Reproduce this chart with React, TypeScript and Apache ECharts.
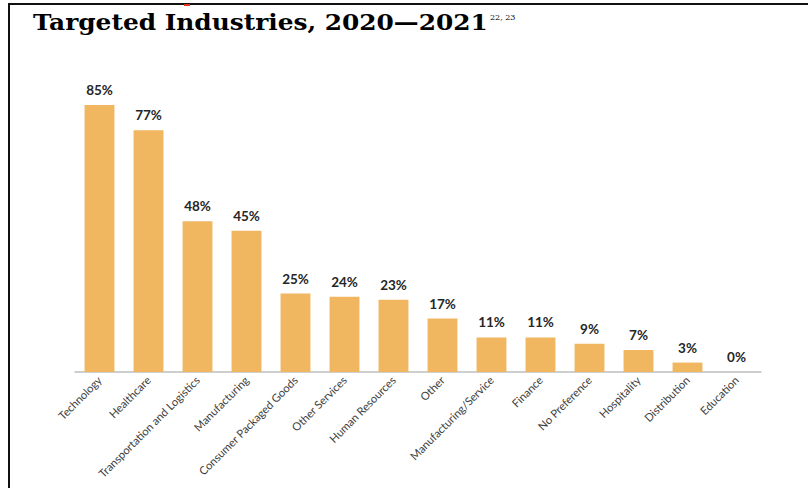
import React, { useEffect, useRef } from "react";
import * as echarts from "echarts";

const categories = [
  "Technology",
  "Healthcare",
  "Transportation and Logistics",
  "Manufacturing",
  "Consumer Packaged Goods",
  "Other Services",
  "Human Resources",
  "Other",
  "Manufacturing/Service",
  "Finance",
  "No Preference",
  "Hospitality",
  "Distribution",
  "Education",
];
const values = [85, 77, 48, 45, 25, 24, 23, 17, 11, 11, 9, 7, 3, 0];

const titleText = "Targeted Industries, 2020\u20142021";
const footnoteText = "22, 23";

export default function App() {
  const ref = useRef<HTMLDivElement>(null);
  useEffect(() => {
    if (!ref.current) return;
    const chart = echarts.init(ref.current, null, { renderer: "svg" });
    chart.setOption({
      animation: false,
      backgroundColor: "#ffffff",
      graphic: [
        { type: "rect", shape: { x: 8, y: 3, width: 800, height: 2 }, style: { fill: "#111" } },
        { type: "rect", shape: { x: 8, y: 3, width: 2, height: 485 }, style: { fill: "#111" } },
        { type: "rect", shape: { x: 184, y: 4, width: 6, height: 2 }, style: { fill: "#e0301e" } },
        {
          type: "text",
          x: 33,
          y: 22,
          scaleX: 1.08,
          style: {
            text: titleText,
            font: "900 23px 'DejaVu Serif'",
            fill: "#000",
            textVerticalAlign: "middle",
          },
        },
        {
          type: "text",
          x: 490,
          y: 17,
          style: {
            text: footnoteText,
            font: "8px 'DejaVu Serif'",
            fill: "#000",
            textVerticalAlign: "middle",
          },
        },
      ],
      grid: { left: 75, right: 47, top: 58, bottom: 116, containLabel: false, outerBoundsMode: "none" },
      xAxis: {
        type: "category",
        data: categories,
        axisLine: { lineStyle: { color: "#bfbfbf", width: 1.5 } },
        axisTick: { show: false },
        axisLabel: {
          rotate: 45,
          interval: 0,
          fontSize: 11.2,
          fontFamily: "Lato",
          color: "#404040",
          margin: 6,
        },
      },
      yAxis: {
        type: "value",
        min: 0,
        max: 100,
        show: false,
      },
      series: [
        {
          type: "bar",
          data: values,
          barCategoryGap: "39%",
          itemStyle: { color: "#F0B660" },
          label: {
            show: true,
            position: "top",
            distance: 8,
            formatter: "{c}%",
            fontSize: 13.5,
            fontWeight: "bold",
            fontFamily: "Lato",
            color: "#262626",
          },
        },
      ],
    });
    return () => chart.dispose();
  }, []);
  return <div ref={ref} style={{ width: 808, height: 488, position: "absolute", left: 0, top: 0 }} />;
}
